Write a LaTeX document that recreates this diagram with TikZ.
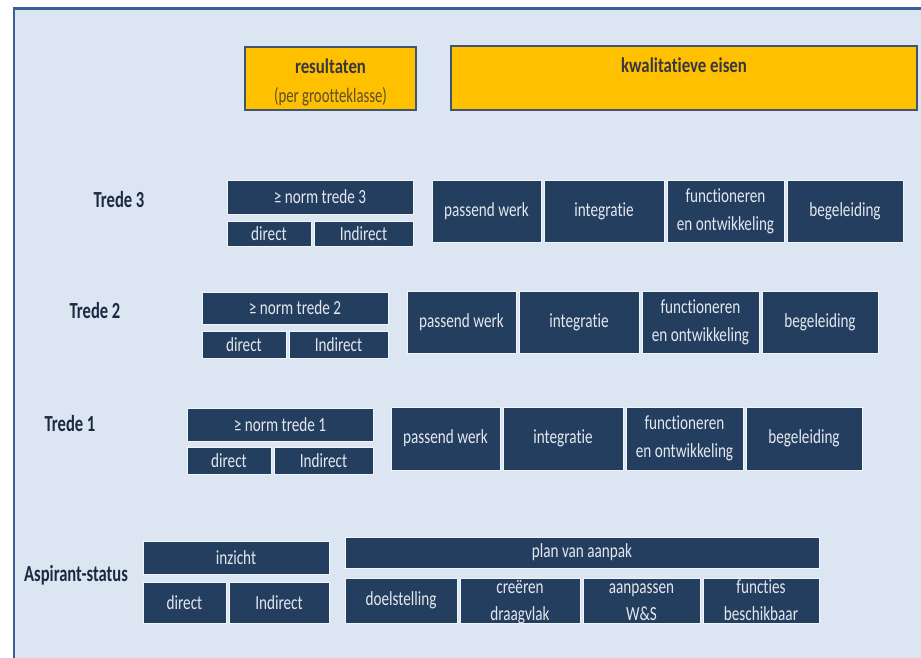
\documentclass[tikz,border=0pt]{standalone}
\usepackage{fontspec}
\newfontfamily\cfont[FakeStretch=0.76,Ligatures=CommonOff]{Carlito}
\newfontfamily\lfont[FakeStretch=0.72,Ligatures=CommonOff]{Carlito}
\newfontfamily\tfont[FakeStretch=0.8,Ligatures=CommonOff]{Carlito}
\definecolor{navy}{RGB}{36,62,96}
\definecolor{boxtxt}{RGB}{228,232,238}
\definecolor{lblcol}{RGB}{27,42,65}
\definecolor{panel}{RGB}{220,230,242}
\definecolor{pborder}{RGB}{58,96,150}
\definecolor{yel}{RGB}{255,192,0}
\definecolor{ybord}{RGB}{65,85,115}
\definecolor{ytxt}{RGB}{55,55,65}
\definecolor{ysub}{RGB}{92,78,48}
\newcommand\bx[7][]{%
  \pgfmathsetmacro\bxw{#5-#3}%
  \pgfmathsetmacro\bxh{#6-#4}%
  \node[box,minimum width=\bxw pt,minimum height=\bxh pt,#1] (#2) at ({(#3+#5)/2},{(#4+#6)/2}) {#7};}
\begin{document}
\begin{tikzpicture}[x=1pt,y=-1pt,
  box/.style={fill=navy,draw=panel!40!white,line width=0.7pt,text=boxtxt,inner sep=0pt,outer sep=0pt,align=center,
    font=\cfont\fontsize{20}{28}\selectfont},
  ybox/.style={fill=yel,draw=ybord,line width=2.2pt},
  lbl/.style={text=lblcol,inner sep=0pt,font=\lfont\bfseries\fontsize{23}{26}\selectfont},
  ytitle/.style={text=ytxt,inner sep=0pt,anchor=base,font=\tfont\bfseries\fontsize{21}{24}\selectfont},
  ysubt/.style={text=ysub,inner sep=0pt,anchor=base,font=\lfont\fontsize{20.5}{24}\selectfont},
  btxt/.style={text=boxtxt,inner sep=0pt,anchor=base,font=\cfont\fontsize{20}{26}\selectfont}]
\useasboundingbox (0,0) rectangle (921,658);
% panel
\fill[panel] (14,8.5) rectangle (921,658);
\draw[pborder,line width=2.6pt] (14,658) -- (14,8.5) -- (921,8.5);
% header boxes
\bx[ybox]{res}{245}{47}{416}{110}{}
\node[ytitle] (restitle) at (330.5,74) {resultaten};
\node[ysubt] (ressub) at (330.5,103) {(per grootteklasse)};
\bx[ybox]{kwal}{451}{46}{917}{110}{}
\node[ytitle] (kwaltitle) at (684,73) {kwalitatieve eisen};
% Trede 3
\node[lbl] (t3) at (119,200) {Trede 3};
\bx{norm3}{227}{180}{413}{214}{≥ norm trede 3}
\bx{dir3}{227}{221}{311}{246}{direct}
\bx{ind3}{314}{221}{413}{246}{Indirect}
\bx{pw3}{432}{180}{541}{242}{passend werk}
\bx{int3}{544}{180}{664}{242}{integratie}
\bx{fo3}{667}{180}{784}{242}{functioneren\\en ontwikkeling}
\bx{beg3}{787}{180}{903}{242}{begeleiding}
% Trede 2
\node[lbl] (t2) at (95,311) {Trede 2};
\bx{norm2}{202}{292}{388}{324}{≥ norm trede 2}
\bx{dir2}{202}{331}{286}{358}{direct}
\bx{ind2}{289}{331}{388}{358}{Indirect}
\bx{pw2}{407}{291}{516}{353}{passend werk}
\bx{int2}{519}{291}{639}{353}{integratie}
\bx{fo2}{642}{291}{759}{353}{functioneren\\en ontwikkeling}
\bx{beg2}{762}{291}{878}{353}{begeleiding}
% Trede 1
\node[lbl] (t1) at (70,424) {Trede 1};
\bx{norm1}{187}{408}{373}{441}{≥ norm trede 1}
\bx{dir1}{187}{447}{271}{474}{direct}
\bx{ind1}{274}{447}{373}{474}{Indirect}
\bx{pw1}{391}{407}{500}{470}{passend werk}
\bx{int1}{503}{407}{623}{470}{integratie}
\bx{fo1}{626}{407}{743}{470}{functioneren\\en ontwikkeling}
\bx{beg1}{746}{407}{862}{470}{begeleiding}
% Aspirant-status
\node[lbl] (asp) at (76,575) {Aspirant-status};
\bx{inz}{143}{541}{329}{574}{inzicht}
\bx{dira}{143}{582}{226}{623}{direct}
\bx{inda}{229}{582}{329}{623}{Indirect}
\bx{plan}{345}{537}{819}{568}{plan van aanpak}
\bx{doel}{345}{578}{457}{623}{doelstelling}
\bx{creer}{460}{578}{580}{623}{}
\bx{aanp}{583}{578}{700}{623}{}
\bx{func}{703}{578}{819}{623}{}
\node[btxt] (creer1) at (520,593) {creëren};
\node[btxt] (creer2) at (520,620) {draagvlak};
\node[btxt] (aanp1) at (641.5,593) {aanpassen};
\node[btxt] (aanp2) at (641.5,620) {W\&S};
\node[btxt] (func1) at (761,593) {functies};
\node[btxt] (func2) at (761,620) {beschikbaar};
\end{tikzpicture}
\end{document}
